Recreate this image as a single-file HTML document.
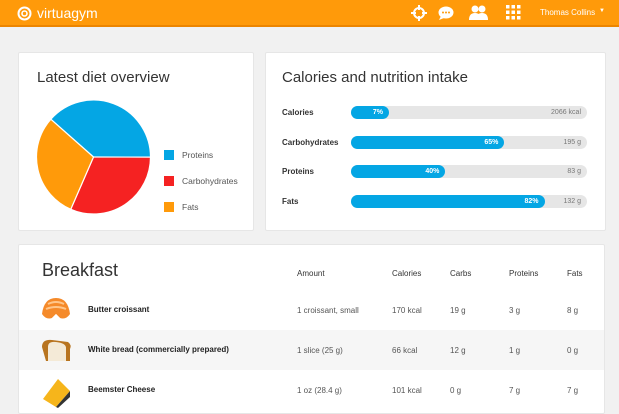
<!DOCTYPE html>
<html><head><meta charset="utf-8"><style>
*{margin:0;padding:0;box-sizing:border-box}
body{width:619px;height:408px;overflow:hidden;background:#f1f1f1;font-family:"Liberation Sans",sans-serif;position:relative}
.hdr{position:absolute;left:0;top:0;width:619px;height:27px;background:#ff9a0a;border-bottom:2px solid #ec8500}
.card{position:absolute;background:#fff;border:1px solid #e6e6e6;border-radius:2px}
.abs{position:absolute}
.t{position:absolute;white-space:nowrap}
.lbl{font-size:8px;font-weight:bold;color:#333}
.track{position:absolute;left:351px;width:236px;height:13px;background:#e6e6e6;border-radius:7px}
.fill{position:absolute;left:0;top:0;height:13px;background:#04a6e4;border-radius:7px;color:#fff;font-size:7px;font-weight:bold;text-align:right;padding-right:6px;line-height:13px}
.rv{position:absolute;right:6px;top:0;line-height:13px;font-size:7px;color:#777}
.th{font-size:8px;color:#333;top:269px}
.td{font-size:8px;color:#555}
.fn{font-size:8px;font-weight:bold;color:#222}
</style></head><body>
<div class="hdr">
 <svg class="abs" style="left:17px;top:6px" width="15" height="15"><circle cx="7.5" cy="7.5" r="6" fill="none" stroke="#fff" stroke-width="2"/><circle cx="7.5" cy="7.5" r="2.5" fill="none" stroke="#fff" stroke-width="1.6"/></svg>
 <div class="t" style="left:37px;top:5px;color:#fff;font-size:14px">virtuagym</div>
 <svg class="abs" style="left:411px;top:5px" width="16" height="16"><circle cx="8" cy="8" r="5" fill="none" stroke="#fff" stroke-width="2"/><path d="M8 0v5M8 11v5M0 8h5M11 8h5" stroke="#fff" stroke-width="2"/></svg>
 <svg class="abs" style="left:438px;top:6px" width="16" height="15"><ellipse cx="8" cy="6.5" rx="7.5" ry="6" fill="#fff"/><path d="M3 10l-2 4 5-2z" fill="#fff"/><circle cx="5" cy="6.5" r="1" fill="#ff9a0a"/><circle cx="8" cy="6.5" r="1" fill="#ff9a0a"/><circle cx="11" cy="6.5" r="1" fill="#ff9a0a"/></svg>
 <svg class="abs" style="left:468px;top:5px" width="22" height="15"><circle cx="14" cy="4" r="3.5" fill="#fff"/><path d="M8 15q0-7 6-7t6 7z" fill="#fff"/><circle cx="7" cy="4" r="3.5" fill="#fff"/><path d="M1 15q0-7 6-7t6 7z" fill="#fff"/></svg>
 <svg class="abs" style="left:506px;top:5px" width="15" height="15"><g fill="#fff"><rect x="0" y="0" width="3.5" height="3.5"/><rect x="5.5" y="0" width="3.5" height="3.5"/><rect x="11" y="0" width="3.5" height="3.5"/><rect x="0" y="5.5" width="3.5" height="3.5"/><rect x="5.5" y="5.5" width="3.5" height="3.5"/><rect x="11" y="5.5" width="3.5" height="3.5"/><rect x="0" y="11" width="3.5" height="3.5"/><rect x="5.5" y="11" width="3.5" height="3.5"/><rect x="11" y="11" width="3.5" height="3.5"/></g></svg>
 <div class="t" style="left:540px;top:8px;color:#fff;font-size:8px">Thomas Collins</div>
 <div class="t" style="left:599px;top:8px;color:#fff;font-size:6px">▼</div>
</div>

<div class="card" style="left:18px;top:52px;width:236px;height:179px"></div>
<div class="t" style="left:37px;top:69px;font-size:15px;color:#333">Latest diet overview</div>
<svg id="pie" class="abs" style="left:30px;top:95px" width="130" height="125"></svg>
<div id="legend"></div>

<div class="card" style="left:265px;top:52px;width:341px;height:179px"></div>
<div class="t" style="left:282px;top:69px;font-size:15px;color:#333">Calories and nutrition intake</div>
<div id="bars"></div>

<div class="card" style="left:18px;top:244px;width:587px;height:170px"></div>
<div class="t" style="left:42px;top:260px;font-size:18px;color:#333">Breakfast</div>
<div class="t th" style="left:297px">Amount</div>
<div class="t th" style="left:392px">Calories</div>
<div class="t th" style="left:450px">Carbs</div>
<div class="t th" style="left:509px">Proteins</div>
<div class="t th" style="left:567px">Fats</div>
<div class="abs" style="left:19px;top:330px;width:585px;height:40px;background:#f6f6f6"></div>

<svg class="abs" style="left:40px;top:296px" width="32" height="26"><path d="M2 18Q4 2 16 2Q28 2 30 18Q26 24 20 22L16 18L12 22Q6 24 2 18z" fill="#f58a2a"/><path d="M8 8Q16 4 24 8M6 13Q16 9 26 13" stroke="#ffc68a" stroke-width="2" fill="none"/><path d="M12 22L16 18L20 22z" fill="#fff"/></svg>
<svg class="abs" style="left:40px;top:337px" width="32" height="26"><path d="M2 10Q2 2 12 3L28 5Q32 8 30 12L30 24L6 24z" fill="#b8741f"/><path d="M8 10Q8 4 16 5Q26 6 26 11L26 24L8 24z" fill="#f4ead7"/></svg>
<svg class="abs" style="left:40px;top:377px" width="32" height="31"><path d="M3 22L18 2L30 14L16 30z" fill="#f6b51b"/><path d="M16 30L30 14L30 20L18 31z" fill="#333"/></svg>

<div id="rows"></div>

<script>
// pie data
const pieCats=["Proteins","Carbohydrates","Fats"];
const pieVals=[38.5,31.5,30];
const pieColors=["#04a6e4","#f52222","#ff9a0a"];
// bar data
const barCats=["Calories","Carbohydrates","Proteins","Fats"];
const barPct=[7,65,40,82];
const barTotals=["2066 kcal","195 g","83 g","132 g"];
// table data
const foods=["Butter croissant","White bread (commercially prepared)","Beemster Cheese"];
const amounts=["1 croissant, small","1 slice (25 g)","1 oz (28.4 g)"];
const cals=["170 kcal","66 kcal","101 kcal"];
const carbs=["19 g","12 g","0 g"];
const prots=["3 g","1 g","7 g"];
const fats=["8 g","0 g","7 g"];

const NS="http://www.w3.org/2000/svg";
const pie=document.getElementById('pie');
const cx=63.5,cy=62,r=57;
const tot=pieVals.reduce((a,b)=>a+b,0);
let a=-48.5*Math.PI/180;
function pt(ang){return [cx+r*Math.sin(ang),cy-r*Math.cos(ang)];}
pieVals.forEach((v,i)=>{
  const a2=a+v/tot*2*Math.PI;
  const [x1,y1]=pt(a),[x2,y2]=pt(a2);
  const p=document.createElementNS(NS,'path');
  p.setAttribute('d',`M${cx},${cy}L${x1},${y1}A${r},${r} 0 ${a2-a>Math.PI?1:0} 1 ${x2},${y2}Z`);
  p.setAttribute('fill',pieColors[i]);p.setAttribute('stroke','#fff');p.setAttribute('stroke-width','1.2');
  
  
  pie.appendChild(p);a=a2;
});
const lg=document.getElementById('legend');
pieCats.forEach((c,i)=>{
  const y=150+i*26;
  const s=document.createElement('div');
  s.className='abs';s.style.cssText=`left:164px;top:${y}px;width:10px;height:10px;background:${pieColors[i]}`;
  
  
  lg.appendChild(s);
  const t=document.createElement('div');
  t.className='t';t.style.cssText=`left:182px;top:${y}px;font-size:8.5px;color:#555`;t.textContent=c;
  
  
  lg.appendChild(t);
});
const bw=236;
const bars=document.getElementById('bars');
barCats.forEach((c,i)=>{
  const y=106+i*29.5;
  const l=document.createElement('div');
  l.className='t lbl';l.style.cssText=`left:282px;top:${y+2}px`;l.textContent=c;
  
  
  bars.appendChild(l);
  const tr=document.createElement('div');tr.className='track';tr.style.top=y+'px';
  
  
  const rv=document.createElement('div');rv.className='rv';rv.textContent=barTotals[i];
  
  
  tr.appendChild(rv);
  const f=document.createElement('div');f.className='fill';
  f.style.width=Math.max(barPct[i]/100*bw,38)+'px';f.textContent=barPct[i]+'%';
  
  
  tr.appendChild(f);
  bars.appendChild(tr);
});
const rows=document.getElementById('rows');
const cols=[[297,amounts],[392,cals],[450,carbs],[509,prots],[567,fats]];
foods.forEach((f,i)=>{
  const y=305+i*40;
  const n=document.createElement('div');n.className='t fn';n.style.cssText=`left:88px;top:${y}px`;n.textContent=f;
  
  
  rows.appendChild(n);
  cols.forEach(([x,arr])=>{
    const d=document.createElement('div');d.className='t td';d.style.cssText=`left:${x}px;top:${y+1}px`;d.textContent=arr[i];
    
    
    rows.appendChild(d);
  });
});
</script>
</body></html>
